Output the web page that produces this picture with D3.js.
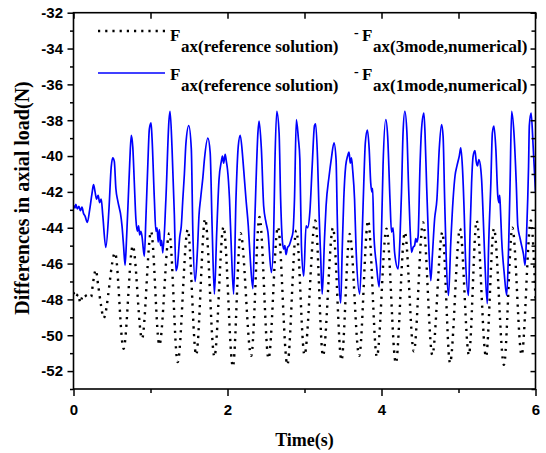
<!DOCTYPE html>
<html>
<head>
<meta charset="utf-8">
<script src="https://cdn.jsdelivr.net/npm/d3@7"></script>
<style>
  html, body { margin: 0; padding: 0; background: #fff; }
  svg { display: block; }
  .serif { font-family: "Liberation Serif", "Times New Roman", serif; font-weight: bold; }
  .sans { font-family: "Liberation Sans", Arial, sans-serif; font-weight: bold; }
</style>
</head>
<body>
<svg id="chart" width="546" height="453"></svg>
<script>
// Axis ticks
const xMajorTicks = [0, 2, 4, 6];
const xMinorTicks = [1, 3, 5];
const yMajorTicks = [-52, -50, -48, -46, -44, -42, -40, -38, -36, -34, -32];
const yMinorTicks = [-53, -51, -49, -47, -45, -43, -41, -39, -37, -35, -33];

// Axis titles and legend texts
const xTitle = "Time(s)";
const yTitle = "Differences in axial load(N)";
const legendSubA = ["ax(reference solution)", "ax(reference solution)"];
const legendSubB = ["ax(3mode,numerical)", "ax(1mode,numerical)"];

// F_ax(reference) - F_ax(3mode,numerical): [time s, difference N]
const threeMode = [
  [0.00,-47.6],[0.03,-47.9],[0.06,-47.7],[0.09,-48.2],[0.11,-47.9],[0.14,-47.7],
  [0.18,-47.9],[0.23,-47.85],[0.25,-47.2],[0.29,-46.35],[0.32,-47.2],[0.36,-48.4],
  [0.39,-49.05],[0.54,-45.4],[0.65,-50.75],[0.77,-45.0],[0.89,-50.2],[1.007,-44.2],
  [1.115,-50.55],[1.245,-44.3],[1.353,-51.5],[1.484,-44.1],[1.593,-51.1],[1.71,-43.5],
  [1.83,-51.2],[1.948,-43.95],[2.07,-51.75],[2.17,-44.3],[2.308,-51.15],[2.416,-43.4],
  [2.533,-51.3],[2.655,-43.95],[2.777,-51.65],[2.894,-44.15],[3.0,-51.1],[3.14,-43.6],
  [3.24,-51.15],[3.37,-44.0],[3.48,-51.4],[3.587,-44.35],[3.71,-51.15],[3.826,-43.6],
  [3.94,-51.2],[4.065,-44.05],[4.186,-51.55],[4.303,-44.25],[4.42,-50.9],[4.54,-43.7],
  [4.66,-51.1],[4.79,-44.25],[4.89,-51.55],[5.02,-44.05],[5.135,-51.1],[5.236,-43.6],
  [5.357,-51.2],[5.46,-44.05],[5.59,-51.65],[5.70,-44.0],[5.82,-51.1],[5.94,-43.6],
  [6.0,-48.0]
];

// F_ax(reference) - F_ax(1mode,numerical): [time s, difference N]
const oneMode = [
  [0.00,-42.75],[0.02,-42.9],[0.03,-42.7],[0.05,-42.95],[0.07,-42.8],[0.09,-43.05],
  [0.11,-42.85],[0.13,-43.2],[0.15,-43.35],[0.18,-43.7],[0.21,-43.0],[0.24,-42.1],
  [0.26,-41.6],[0.28,-42.0],[0.30,-42.4],[0.32,-42.2],[0.34,-42.6],[0.36,-42.4],
  [0.38,-43.3],[0.42,-45.1],
  [0.46,-43.0],[0.49,-40.6],[0.51,-40.1],[0.53,-40.3],[0.55,-41.8],[0.575,-42.5],
  [0.595,-42.9],[0.61,-43.2],[0.63,-43.9],[0.65,-45.0],[0.67,-46.1],
  [0.69,-44.5],[0.71,-42.5],[0.73,-40.4],[0.75,-38.85],[0.77,-39.5],[0.79,-41.5],
  [0.81,-43.5],[0.83,-44.2],[0.845,-43.9],[0.86,-44.4],[0.875,-44.2],[0.89,-44.5],
  [0.92,-45.6],
  [0.94,-43.5],[0.965,-40.5],[0.985,-38.5],[1.007,-38.15],[1.02,-39.0],[1.05,-42.4],
  [1.07,-44.2],[1.085,-44.0],[1.10,-44.8],[1.115,-44.1],[1.13,-45.0],[1.145,-44.7],
  [1.16,-45.4],
  [1.20,-42.4],[1.24,-38.0],[1.254,-37.5],[1.28,-39.6],[1.31,-43.3],[1.33,-46.4],
  [1.35,-46.1],[1.38,-44.5],[1.40,-43.9],[1.42,-42.4],[1.44,-41.0],[1.46,-39.3],
  [1.497,-38.3],[1.53,-39.6],[1.55,-44.25],[1.58,-47.0],
  [1.61,-45.2],[1.63,-43.3],[1.65,-42.4],[1.66,-42.0],[1.68,-41.2],[1.70,-40.2],
  [1.745,-39.0],[1.775,-39.8],[1.80,-43.9],[1.83,-47.7],
  [1.86,-44.25],[1.89,-41.3],[1.92,-40.3],[1.935,-40.0],[1.95,-40.4],[1.97,-39.9],
  [1.985,-40.3],[2.0,-40.75],[2.026,-42.4],[2.05,-45.2],[2.08,-47.7],
  [2.11,-42.4],[2.14,-39.45],[2.165,-38.85],[2.2,-40.2],[2.22,-41.3],[2.24,-42.4],
  [2.27,-43.9],[2.295,-45.7],[2.33,-47.4],
  [2.35,-44.25],[2.37,-41.5],[2.395,-38.7],[2.41,-38.05],[2.44,-39.6],[2.47,-42.8],
  [2.5,-43.7],[2.525,-44.25],[2.57,-46.5],
  [2.60,-44.25],[2.615,-40.55],[2.64,-37.5],[2.67,-38.7],[2.69,-42.4],[2.71,-44.6],
  [2.73,-45.2],[2.745,-45.0],[2.76,-45.5],[2.78,-45.1],[2.80,-45.0],[2.83,-44.6],
  [2.85,-44.25],[2.87,-42.4],[2.894,-37.96],
  [2.92,-39.0],[2.94,-40.2],[2.96,-45.0],[2.99,-46.7],
  [3.02,-43.9],[3.04,-44.0],[3.07,-43.1],[3.10,-40.55],[3.13,-38.3],[3.145,-38.2],
  [3.17,-40.2],[3.19,-43.3],[3.21,-45.6],[3.23,-47.7],
  [3.26,-44.6],[3.28,-42.8],[3.32,-41.1],[3.35,-40.1],[3.383,-39.26],[3.41,-40.2],
  [3.425,-43.3],[3.44,-46.1],[3.47,-48.2],
  [3.49,-45.2],[3.51,-42.4],[3.535,-40.55],[3.56,-40.0],[3.578,-39.78],[3.595,-40.4],
  [3.61,-40.1],[3.625,-40.75],[3.65,-42.4],[3.67,-45.2],[3.717,-47.7],
  [3.75,-44.25],[3.77,-41.5],[3.79,-39.26],[3.817,-38.55],[3.84,-39.6],[3.86,-41.5],
  [3.875,-42.0],[3.885,-41.8],[3.90,-44.25],[3.935,-46.1],[3.97,-47.3],
  [4.0,-44.25],[4.02,-40.55],[4.056,-37.96],[4.08,-38.9],[4.11,-42.4],[4.13,-44.25],
  [4.15,-44.0],[4.17,-45.37],[4.216,-46.3],
  [4.24,-44.6],[4.26,-42.0],[4.28,-38.7],[4.303,-37.5],[4.33,-38.7],[4.35,-41.5],
  [4.37,-43.9],[4.39,-45.37],[4.41,-45.1],[4.43,-45.0],[4.445,-44.6],[4.46,-44.8],
  [4.475,-44.5],
  [4.50,-40.55],[4.52,-38.5],[4.55,-37.6],[4.565,-38.7],[4.585,-41.5],[4.61,-44.6],
  [4.64,-46.95],
  [4.66,-45.6],[4.69,-43.5],[4.72,-42.4],[4.75,-39.6],[4.78,-38.24],[4.80,-38.9],
  [4.82,-42.4],[4.84,-45.6],[4.87,-47.78],
  [4.90,-44.8],[4.93,-42.4],[4.955,-41.1],[4.98,-40.55],[5.01,-40.0],[5.03,-39.54],
  [5.05,-40.55],[5.075,-43.3],[5.09,-45.6],[5.13,-47.78],
  [5.15,-44.25],[5.17,-41.5],[5.19,-40.0],[5.214,-39.7],[5.23,-40.3],[5.245,-40.55],
  [5.265,-40.2],[5.29,-40.75],[5.30,-41.3],[5.32,-43.3],[5.34,-45.6],[5.374,-48.24],
  [5.39,-45.2],[5.42,-41.5],[5.44,-38.7],[5.46,-38.33],[5.485,-39.6],[5.51,-42.2],
  [5.525,-42.6],[5.535,-42.2],[5.545,-43.0],[5.56,-44.6],[5.595,-46.6],[5.626,-47.78],
  [5.65,-45.2],[5.67,-41.5],[5.69,-37.5],[5.72,-38.7],[5.75,-41.5],[5.77,-43.9],
  [5.80,-44.6],[5.82,-45.0],[5.843,-45.46],[5.865,-46.1],
  [5.885,-44.25],[5.91,-40.55],[5.92,-38.3],[5.943,-37.6],[5.97,-39.5],[6.0,-42.0]
];

const svg = d3.select("#chart");
const plot = { left: 73.5, right: 535.5, top: 12.7, bottom: 389 };

const x = d3.scaleLinear().domain([0, 6]).range([plot.left, plot.right]);
const y = d3.scaleLinear().domain([-53, -32]).range([plot.bottom, plot.top]);

svg.append("defs").append("clipPath").attr("id", "plot-clip")
  .append("rect")
  .attr("x", plot.left).attr("y", plot.top)
  .attr("width", plot.right - plot.left).attr("height", plot.bottom - plot.top);

// Data curves
const line = d3.line()
  .x(d => x(d[0]))
  .y(d => y(d[1]))
  .curve(d3.curveMonotoneX);

const curves = svg.append("g").attr("clip-path", "url(#plot-clip)");
curves.append("path")
  .datum(threeMode)
  .attr("d", line)
  .attr("fill", "none")
  .attr("stroke", "#000")
  .attr("stroke-width", 2.4)
  .attr("stroke-dasharray", "2.2,5.5");

curves.append("path")
  .datum(oneMode)
  .attr("d", line)
  .attr("fill", "none")
  .attr("stroke", "#0000ff")
  .attr("stroke-width", 1.7)
  .attr("stroke-linejoin", "round");

// Axes: outward ticks on bottom/left, inward mirror ticks on top/right
function styleAxis(g) {
  g.select(".domain").remove();
  g.attr("font-family", null).attr("font-size", null);
  g.selectAll(".tick line").attr("stroke", "#000").attr("stroke-width", 1.5);
  g.selectAll("text")
    .attr("class", "sans")
    .attr("fill", "#000")
    .style("font-size", "15px");
}

svg.append("g")
  .attr("transform", `translate(0,${plot.bottom})`)
  .call(d3.axisBottom(x).tickValues(xMajorTicks).tickSize(7).tickPadding(8)
        .tickFormat(d => String(d)))
  .call(styleAxis);
svg.append("g")
  .attr("transform", `translate(0,${plot.bottom})`)
  .call(d3.axisBottom(x).tickValues(xMinorTicks).tickSize(4).tickFormat(""))
  .call(styleAxis);

svg.append("g")
  .attr("transform", `translate(0,${plot.top})`)
  .call(d3.axisBottom(x).tickValues(xMajorTicks).tickSize(6).tickFormat(""))
  .call(styleAxis);
svg.append("g")
  .attr("transform", `translate(0,${plot.top})`)
  .call(d3.axisBottom(x).tickValues(xMinorTicks).tickSize(6).tickFormat(""))
  .call(styleAxis);

svg.append("g")
  .attr("transform", `translate(${plot.left},0)`)
  .call(d3.axisLeft(y).tickValues(yMajorTicks).tickSize(6).tickPadding(4.5)
        .tickFormat(d => String(d)))
  .call(styleAxis);
svg.append("g")
  .attr("transform", `translate(${plot.left},0)`)
  .call(d3.axisLeft(y).tickValues(yMinorTicks).tickSize(3.5).tickFormat(""))
  .call(styleAxis);

svg.append("g")
  .attr("transform", `translate(${plot.right},0)`)
  .call(d3.axisLeft(y).tickValues(yMajorTicks).tickSize(5).tickFormat(""))
  .call(styleAxis);
svg.append("g")
  .attr("transform", `translate(${plot.right},0)`)
  .call(d3.axisLeft(y).tickValues(yMinorTicks).tickSize(4).tickFormat(""))
  .call(styleAxis);

// Frame
svg.append("rect")
  .attr("x", plot.left).attr("y", plot.top)
  .attr("width", plot.right - plot.left).attr("height", plot.bottom - plot.top)
  .attr("fill", "none").attr("stroke", "#000").attr("stroke-width", 1.6);

// Axis titles
svg.append("text")
  .attr("class", "serif")
  .attr("x", (plot.left + plot.right) / 2).attr("y", 446)
  .attr("text-anchor", "middle")
  .style("font-size", "18px")
  .text(xTitle);

svg.append("text")
  .attr("class", "serif")
  .attr("transform", `translate(29,198) rotate(-90)`)
  .attr("text-anchor", "middle")
  .style("font-size", "20px")
  .text(yTitle);

// Legend
const legendRows = [
  { lineY: 31, base: 41, dash: "2.2,5", color: "#000", width: 2.4 },
  { lineY: 73, base: 80, dash: null, color: "#0000ff", width: 1.7 }
];
legendRows.forEach((r, i) => {
  const sample = svg.append("line")
    .attr("x1", 98).attr("x2", 165).attr("y1", r.lineY).attr("y2", r.lineY)
    .attr("stroke", r.color).attr("stroke-width", r.width);
  if (r.dash) sample.attr("stroke-dasharray", r.dash);

  const t = svg.append("text")
    .attr("class", "serif")
    .style("font-size", "17px")
    .attr("fill", "#000");
  t.append("tspan").attr("x", 170).attr("y", r.base).text("F");
  t.append("tspan").attr("x", 181).attr("y", r.base + 11).text(legendSubA[i]);
  t.append("tspan").attr("x", 354).attr("y", r.base - 4).style("font-size", "14px").text("-");
  t.append("tspan").attr("x", 362).attr("y", r.base).text("F");
  t.append("tspan").attr("x", 373).attr("y", r.base + 11).text(legendSubB[i]);
});
</script>
</body>
</html>
